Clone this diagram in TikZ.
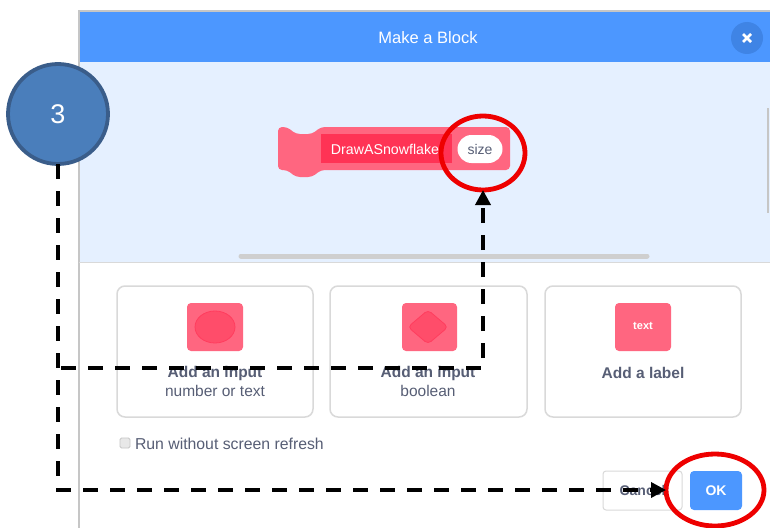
\documentclass[tikz,border=0pt]{standalone}
\usepackage{fontspec}
\setmainfont{Liberation Sans}
\usetikzlibrary{arrows.meta,shapes.geometric,calc}
\definecolor{sblue}{HTML}{4C97FF}
\definecolor{sbluedark}{HTML}{3F84E5}
\definecolor{slight}{HTML}{E5F0FF}
\definecolor{spink}{HTML}{FF6680}
\definecolor{sred}{HTML}{FF3355}
\definecolor{sredin}{HTML}{FF4D6A}
\definecolor{stext}{HTML}{575E75}
\definecolor{cardgray}{HTML}{D9D9D9}
\definecolor{bordergray}{HTML}{C6C6C6}
\definecolor{numfill}{HTML}{4A7EBB}
\definecolor{numdraw}{HTML}{3A5D8A}
\definecolor{ringred}{HTML}{EE0000}
\begin{document}
\begin{tikzpicture}[x=1pt,y=-1pt,
  every node/.style={inner sep=0pt, outer sep=0pt},
  card/.style={draw=cardgray, line width=1.5pt, rounded corners=8pt, fill=white},
  iconbox/.style={fill=spink, rounded corners=4pt},
  ttl/.style={text=stext, font=\fontsize{15.5}{18}\selectfont\bfseries},
  sub/.style={text=stext, font=\fontsize{15.5}{18}\selectfont},
  flow/.style={line width=3.5pt, dash pattern=on 15pt off 12pt, -{Triangle[length=15pt,width=15pt]}},
  ring/.style={draw=ringred, line width=4.8pt, ellipse}
]
\useasboundingbox (0,0) rectangle (770,527);
\fill[white] (0,0) rectangle (770,527);
\begin{scope}
\clip (0,0) rectangle (770,527);
% dialog
\fill[white] (79,11) rectangle (780,540);
\fill[slight] (79,62) rectangle (780,262);
\fill[sblue] (79,11) rectangle (780,62);
\draw[bordergray, line width=1.2pt] (79,540) -- (79,11) -- (780,11);
\draw[cardgray, line width=1pt] (79,262) -- (780,262);
\node[text=white, font=\fontsize{16.5}{19}\selectfont] (title) at (428,38) {Make a Block};
\node[circle, fill=sbluedark, minimum size=32pt] (close) at (747,38) {};
\draw[white, line width=2.6pt] ($(close)+(-4,-4)$) -- ($(close)+(4,4)$) ($(close)+(4,-4)$) -- ($(close)+(-4,4)$);
% scrollbars
\draw[line width=5pt, line cap=round, cardgray!85!black!30!cardgray] (241,256) -- (647,256);
\draw[bordergray, line width=1.5pt] (768,108) -- (768,213);
% block
\fill[spink, rounded corners=4pt] (278,170) -- (278,127) -- (287,127) -- (296,134) -- (312,134) -- (321,127) -- (510,127) -- (510,170) -- (321,170) -- (312,177) -- (296,177) -- (287,170) -- cycle;
\fill[sred] (321,134) rectangle (452,163);
\node[text=white, font=\fontsize{14.2}{16}\selectfont] (blockname) at (385,149) {DrawASnowflake};
\node[fill=white, rounded corners=14pt, minimum width=45pt, minimum height=28pt, text=stext, font=\fontsize{14}{16}\selectfont] (sizein) at (480,149) {size};
% cards
\draw[card] (117,286) rectangle (313,417);
\draw[card] (330,286) rectangle (527,417);
\draw[card] (545,286) rectangle (741,417);
\fill[iconbox] (187,303) rectangle (243,351);
\draw[fill=sredin, draw=sred!80!spink, line width=0.8pt] (215,327) ellipse [x radius=20, y radius=16];
\fill[iconbox] (402,303) rectangle (457,351);
\draw[fill=sredin, draw=sred!80!spink, line width=0.8pt, rounded corners=4pt] (408,327) -- (428,310) -- (448,327) -- (428,344) -- cycle;
\fill[iconbox] (615,303) rectangle (671,351);
\node[text=white, font=\fontsize{11}{13}\selectfont\bfseries] (texticon) at (643,326) {text};
\node[ttl] (t1) at (215,373) {Add an input};
\node[sub] (s1) at (215,391) {number or text};
\node[ttl] (t2) at (428,373) {Add an input};
\node[sub] (s2) at (428,391) {boolean};
\node[ttl] (t3) at (643,373) {Add a label};
% checkbox
\draw[fill=cardgray!60, draw=bordergray, line width=0.8pt, rounded corners=1.5pt] (120,438) rectangle (130,448);
\node[sub, font=\fontsize{15.8}{18}\selectfont, anchor=west] (runtxt) at (135,444) {Run without screen refresh};
% buttons
\node[draw=cardgray, line width=1pt, fill=white, rounded corners=3pt, minimum width=79pt, minimum height=39pt, text=stext, font=\fontsize{14}{16}\selectfont\bfseries] (cancel) at (642.5,490.5) {Cancel};
\node[fill=sblue, rounded corners=4pt, minimum width=52pt, minimum height=39pt, text=white, font=\fontsize{14}{16}\selectfont\bfseries] (okbtn) at (716,490.5) {OK};
% rings
\node[ring, minimum width=84pt, minimum height=74pt] (sizering) at (483,153) {};
\node[ring, minimum width=98pt, minimum height=72pt] (okring) at (715,490) {};
% step number
\node[circle, fill=numfill, draw=numdraw, line width=3.8pt, minimum size=100pt, text=white, font=\fontsize{27}{32}\selectfont] (num) at (58,114) {3};
% connectors
\coordinate (start2) at (61,368);
\draw[flow] (num.south) |- (okring.west);
\draw[flow] (start2) -| (sizering.south);
\end{scope}
\end{tikzpicture}
\end{document}
